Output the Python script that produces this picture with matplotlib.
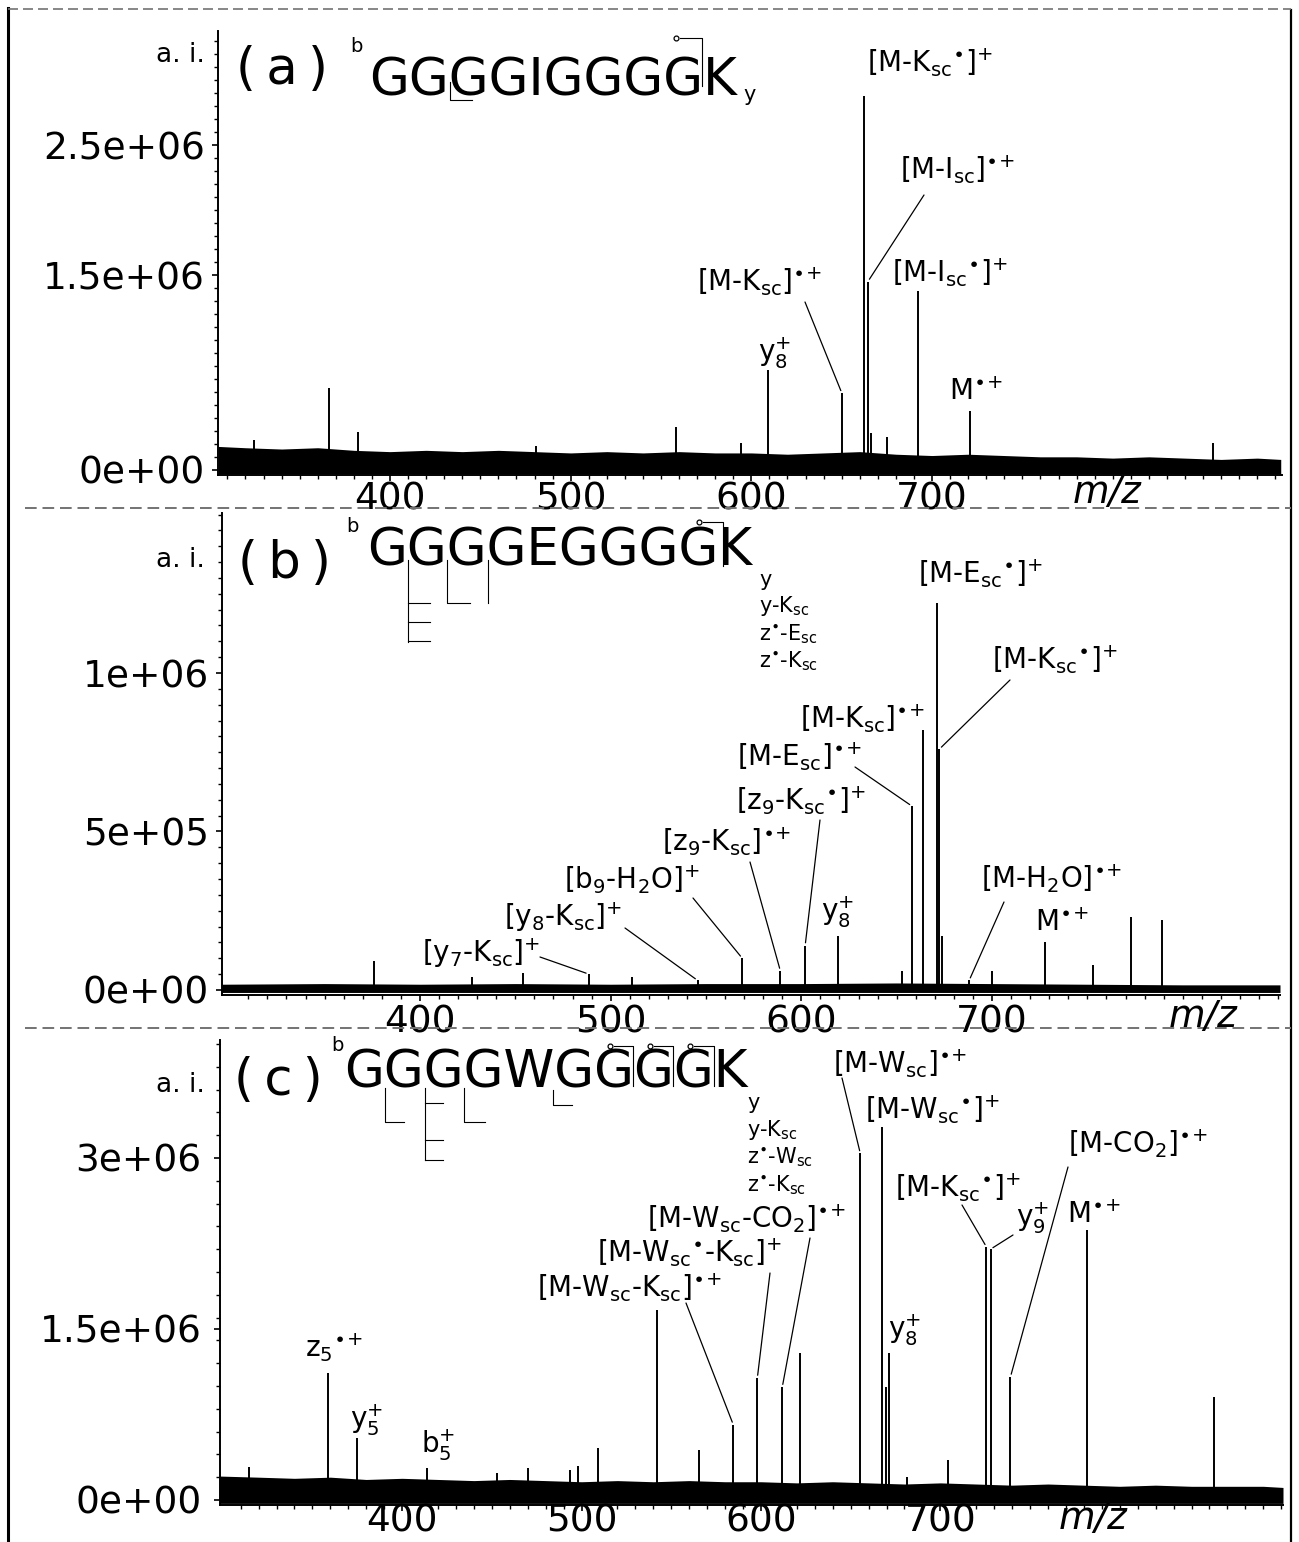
import matplotlib
matplotlib.use("Agg")
import numpy as np
import matplotlib.pyplot as plt
from matplotlib.lines import Line2D

plt.rcParams['font.family'] = ['DejaVu Sans']
plt.rcParams['mathtext.fontset'] = 'dejavusans'
plt.rcParams['mathtext.default'] = 'regular'

# ---------------- data (m/z, intensity in units of 1e6) ----------------
a_mz = [324.7, 366.0, 382.2, 480.8, 558.3, 594.2, 609.1, 650.1, 662.3, 664.5, 666.2, 674.9, 692.2, 721.0, 855.5]
a_int = [0.23, 0.63, 0.29, 0.18, 0.33, 0.21, 0.77, 0.59, 2.88, 1.45, 0.28, 0.25, 1.38, 0.45, 0.21]

b_mz = [375.8, 427.5, 454.2, 488.5, 511.3, 545.6, 569.0, 589.0, 602.0, 619.0, 653.0, 658.0, 663.8,
        670.9, 672.4, 674.0, 688.0, 700.0, 727.7, 753.0, 773.0, 789.0]
b_int = [0.09, 0.04, 0.055, 0.05, 0.04, 0.03, 0.10, 0.06, 0.14, 0.17, 0.06, 0.58, 0.82,
         1.22, 0.76, 0.17, 0.03, 0.06, 0.15, 0.08, 0.23, 0.22]

c_mz = [314.7, 358.7, 374.9, 413.9, 453.0, 470.3, 493.7, 498.2, 509.3, 542.2, 565.6, 584.6, 598.0,
        611.9, 622.0, 655.4, 667.7, 669.5, 671.6, 681.6, 704.0, 725.7, 728.0, 739.1, 782.0, 852.3]
c_int = [0.29, 1.11, 0.54, 0.28, 0.24, 0.28, 0.26, 0.30, 0.46, 1.67, 0.44, 0.66, 1.07,
         0.99, 1.29, 3.04, 3.27, 0.99, 1.29, 0.20, 0.35, 2.22, 2.20, 1.08, 2.37, 0.90]

# noise envelope read along the baseline (units 1e6)
a_noise_mz = [305, 320, 340, 360, 380, 400, 420, 440, 460, 480, 500, 520, 540, 560, 580, 600,
              620, 640, 660, 680, 700, 720, 740, 760, 780, 800, 820, 840, 860, 880, 893]
a_noise_hi = [0.18, 0.17, 0.16, 0.17, 0.15, 0.14, 0.15, 0.14, 0.15, 0.14, 0.13, 0.14, 0.13, 0.14, 0.13, 0.13,
              0.12, 0.13, 0.14, 0.12, 0.11, 0.12, 0.11, 0.10, 0.10, 0.09, 0.10, 0.09, 0.08, 0.09, 0.08]
a_noise_lo = -0.03

b_noise_mz = [296, 350, 400, 450, 500, 550, 600, 650, 700, 750, 800, 851]
b_noise_hi = [0.018, 0.02, 0.018, 0.02, 0.018, 0.02, 0.02, 0.022, 0.02, 0.018, 0.016, 0.016]
b_noise_lo = -0.008

c_noise_mz = [298, 320, 340, 360, 380, 400, 420, 440, 460, 480, 500, 520, 540, 560, 580, 600,
              620, 640, 660, 680, 700, 720, 740, 760, 780, 800, 820, 840, 860, 880, 891]
c_noise_hi = [0.21, 0.20, 0.19, 0.20, 0.18, 0.19, 0.18, 0.17, 0.18, 0.17, 0.16, 0.17, 0.16, 0.17, 0.16, 0.16,
              0.15, 0.16, 0.15, 0.14, 0.15, 0.14, 0.13, 0.14, 0.13, 0.12, 0.13, 0.12, 0.12, 0.12, 0.11]
c_noise_lo = -0.03

x_major = [400, 500, 600, 700]
x_major_labels = ['400', '500', '600', '700']

a_yticks = [0, 1.5, 2.5]
a_ylabels = ['0e+00', '1.5e+06', '2.5e+06']
b_yticks = [0, 0.5, 1.0]
b_ylabels = ['0e+00', '5e+05', '1e+06']
c_yticks = [0, 1.5, 3.0]
c_ylabels = ['0e+00', '1.5e+06', '3e+06']

# ---------------- figure ----------------
W, H = 1299, 1542
fig = plt.figure(figsize=(W / 100, H / 100), dpi=100)


def F(x, y):
    return (x / W, 1 - y / H)


def fline(xs, ys, lw=0.9, color='black', ls='-'):
    fig.add_artist(Line2D([x / W for x in xs], [1 - y / H for y in ys],
                          transform=fig.transFigure, lw=lw, color=color, ls=ls))


def fdot(x, y):
    fig.add_artist(Line2D([x / W], [1 - y / H], transform=fig.transFigure, marker='o',
                          ms=3.5, mfc='white', mec='black', mew=0.9, ls='none'))


panels = [
    dict(box=(218, 1282, 31, 475), xlim=(304.8, 893.7), ylim=(-0.04, 3.38),
         mz=a_mz, it=a_int, nmz=a_noise_mz, nhi=a_noise_hi, nlo=a_noise_lo,
         yt=a_yticks, yl=a_ylabels, yminor=0.1, xpad=0.0, ypad=5.0),
    dict(box=(222, 1280, 513, 995), xlim=(296.2, 851.0), ylim=(-0.016, 1.505),
         mz=b_mz, it=b_int, nmz=b_noise_mz, nhi=b_noise_hi, nlo=b_noise_lo,
         yt=b_yticks, yl=b_ylabels, yminor=0.05, xpad=2.5, ypad=5.0),
    dict(box=(220, 1283, 1040, 1505), xlim=(298.5, 891.0), ylim=(-0.044, 4.035),
         mz=c_mz, it=c_int, nmz=c_noise_mz, nhi=c_noise_hi, nlo=c_noise_lo,
         yt=c_yticks, yl=c_ylabels, yminor=0.2, xpad=-5.5, ypad=9.0),
]

axes = []
for p in panels:
    l, r, t, b = p['box']
    ax = fig.add_axes([l / W, 1 - b / H, (r - l) / W, (b - t) / H])
    ax.set_xlim(*p['xlim'])
    ax.set_ylim(*p['ylim'])
    ax.fill_between(p['nmz'], p['nlo'], p['nhi'], color='black', lw=0, zorder=2)
    ax.vlines(p['mz'], 0, p['it'], color='black', lw=1.4, zorder=3)
    for s in ['top', 'right']:
        ax.spines[s].set_visible(False)
    ax.spines['left'].set_linewidth(1.4)
    ax.spines['bottom'].set_linewidth(1.4)
    ax.set_xticks(x_major)
    ax.set_xticklabels(x_major_labels)
    ax.set_xticks(np.arange(310, p['xlim'][1], 10), minor=True)
    ax.set_yticks(p['yt'])
    ax.set_yticklabels(p['yl'])
    ax.set_yticks(np.arange(0, p['ylim'][1], p['yminor']), minor=True)
    ax.tick_params(axis='both', which='major', direction='out', length=4.5, width=1.2,
                   labelsize=27)
    ax.tick_params(axis='both', which='minor', direction='out', length=2.8, width=1.0)
    ax.tick_params(axis='x', which='major', pad=p['xpad'])
    ax.tick_params(axis='y', which='major', pad=p['ypad'])
    ax.patch.set_alpha(0)
    axes.append(ax)

ax_a, ax_b, ax_c = axes

# ---------------- axis captions ----------------
for (x, y) in [(205, 55), (205, 560), (205, 1085)]:
    fig.text(*F(x, y), 'a. i.', ha='right', va='center', fontsize=19)
for (x, y) in [(1107, 493), (1203, 1017), (1093, 1519)]:
    fig.text(*F(x, y), 'm/z', ha='center', va='center', fontsize=27, style='italic')

# ---------------- panel titles / sequences ----------------
seqs = [('(\u2009a\u2009)', 236, 84, 350, 52, 'GGGGIGGGGK', 369, 95, 743, 95),
        ('(\u2009b\u2009)', 238, 578, 346, 532, 'GGGGEGGGGK', 367, 565, 759, 580),
        ('(\u2009c\u2009)', 234, 1095, 331, 1051, 'GGGGWGGGGK', 344, 1088, 747, 1103)]
for tag, tx, ty, bx, by, seq, sx, sy, yx, yy in seqs:
    fig.text(*F(tx, ty), tag, ha='left', va='baseline', fontsize=37)
    fig.text(*F(bx, by), 'b', ha='left', va='baseline', fontsize=14)
    fig.text(*F(sx, sy), seq, ha='left', va='baseline', fontsize=37)
    fig.text(*F(yx, yy), 'y', ha='left', va='center', fontsize=15)

small_b = ['y-K$_{sc}$', 'z$^{\\bullet}$-E$_{sc}$', 'z$^{\\bullet}$-K$_{sc}$']
for s, y in zip(small_b, [606, 634, 661]):
    fig.text(*F(759, y), s, ha='left', va='center', fontsize=15)
small_c = ['y-K$_{sc}$', 'z$^{\\bullet}$-W$_{sc}$', 'z$^{\\bullet}$-K$_{sc}$']
for s, y in zip(small_c, [1130, 1157, 1185]):
    fig.text(*F(747, y), s, ha='left', va='center', fontsize=15)

# fragmentation marks on the sequences
# panel a
fline([450, 450, 472], [82, 100, 100], lw=0.8)
fdot(676, 38); fline([680, 702, 702], [38, 38, 86], lw=0.8)
# panel b
fline([408, 408], [560, 642], lw=0.8)
for yy in (603, 622, 641):
    fline([408, 430], [yy, yy], lw=0.8)
fline([447, 447, 470], [560, 603, 603], lw=0.8)
fline([488, 488], [560, 603], lw=0.8)
fdot(699, 522); fline([703, 723, 723], [522, 522, 566], lw=0.8)
# panel c
fline([385, 385, 404], [1088, 1122, 1122], lw=0.8)
fline([425, 425], [1088, 1160], lw=0.8)
for yy in (1103, 1140, 1160):
    fline([425, 443], [yy, yy], lw=0.8)
fline([464, 464, 485], [1088, 1122, 1122], lw=0.8)
fline([553, 553, 572], [1090, 1105, 1105], lw=0.8)
for x0, x1 in [(610, 633), (650, 673), (690, 714)]:
    fdot(x0, 1046)
    fline([x0 + 4, x1, x1], [1046, 1046, 1086], lw=0.8)

# ---------------- peak annotations ----------------
RAD = '$^{\\bullet}$'          # radical dot after a subscript
RC = '$^{\\bullet\\!+}$'       # radical cation
PL = '$^{+}$'


def nearest(mzs, target):
    return int(np.argmin([abs(m - target) for m in mzs]))


def label(ax, mzs, ints, text, cx, cy, start=None, target=None, fs=20):
    fig.text(*F(cx, cy), text, ha='center', va='center', fontsize=fs)
    if start is not None:
        i = nearest(mzs, target)
        ax.annotate('', xy=(mzs[i], ints[i]), xycoords='data',
                    xytext=F(*start), textcoords='figure fraction',
                    arrowprops=dict(arrowstyle='-', lw=0.9, color='black',
                                    shrinkA=0, shrinkB=2))


SC = '$_{sc}$'

la = [
    ('[M-K' + SC + RAD + ']' + PL, 930, 63, None, None),
    ('[M-I' + SC + ']' + RC, 958, 170, (924, 195), 664.5),
    ('[M-I' + SC + RAD + ']' + PL, 950, 273, None, None),
    ('[M-K' + SC + ']' + RC, 760, 282, (805, 302), 650.1),
    ('y$_{8}^{+}$', 775, 353, None, None),
    ('M' + RC, 976, 392, None, None),
]
for t, cx, cy, st, tg in la:
    label(ax_a, a_mz, a_int, t, cx, cy, st, tg)

lb = [
    ('[M-E' + SC + RAD + ']' + PL, 980, 574, None, None),
    ('[M-K' + SC + RAD + ']' + PL, 1055, 660, (1010, 680), 672.4),
    ('[M-K' + SC + ']' + RC, 863, 719, None, None),
    ('[M-E' + SC + ']' + RC, 799, 757, (855, 767), 658.0),
    ('[z$_{9}$-K' + SC + RAD + ']' + PL, 801, 801, (820, 820), 602.0),
    ('[z$_{9}$-K' + SC + ']' + RC, 727, 842, (750, 862), 589.0),
    ('[b$_{9}$-H$_{2}$O]' + PL, 632, 880, (693, 898), 569.0),
    ('[y$_{8}$-K' + SC + ']' + PL, 563, 917, (625, 928), 545.6),
    ('[y$_{7}$-K' + SC + ']' + PL, 481, 953, (540, 957), 488.5),
    ('y$_{8}^{+}$', 838, 912, None, None),
    ('[M-H$_{2}$O]' + RC, 1052, 879, (1004, 902), 688.0),
    ('M' + RC, 1062, 923, None, None),
]
for t, cx, cy, st, tg in lb:
    label(ax_b, b_mz, b_int, t, cx, cy, st, tg)

lc = [
    ('[M-W' + SC + ']' + RC, 900, 1064, (842, 1078), 655.4),
    ('[M-W' + SC + RAD + ']' + PL, 932, 1110, None, None),
    ('[M-CO$_{2}$]' + RC, 1138, 1144, (1068, 1167), 739.1),
    ('[M-K' + SC + RAD + ']' + PL, 958, 1188, (962, 1205), 725.7),
    ('y$_{9}^{+}$', 1033, 1218, (1013, 1235), 728.0),
    ('M' + RC, 1094, 1215, None, None),
    ('[M-W' + SC + '-CO$_{2}$]' + RC, 747, 1219, (810, 1238), 611.9),
    ('[M-W' + SC + RAD + '-K' + SC + ']' + PL, 689, 1253, (770, 1273), 598.0),
    ('[M-W' + SC + '-K' + SC + ']' + RC, 629, 1288, (686, 1303), 584.6),
    ('y$_{8}^{+}$', 905, 1330, None, None),
    ('z$_{5}$' + RC, 334, 1348, None, None),
    ('y$_{5}^{+}$', 367, 1420, None, None),
    ('b$_{5}^{+}$', 438, 1445, None, None),
]
for t, cx, cy, st, tg in lc:
    label(ax_c, c_mz, c_int, t, cx, cy, st, tg)

# ---------------- outer frame and separators ----------------
fline([8, 8], [8, 1542], lw=2.2)
fline([1291, 1291], [10, 1542], lw=1.6)
fline([8, 1291], [9, 9], lw=1.2, color='0.45', ls=(0, (6, 3)))
fline([25, 1291], [508, 508], lw=1.4, color='0.45', ls=(0, (6, 3)))
fline([25, 1291], [1028, 1028], lw=1.4, color='0.45', ls=(0, (6, 3)))

fig.savefig('out.png', dpi=100)
